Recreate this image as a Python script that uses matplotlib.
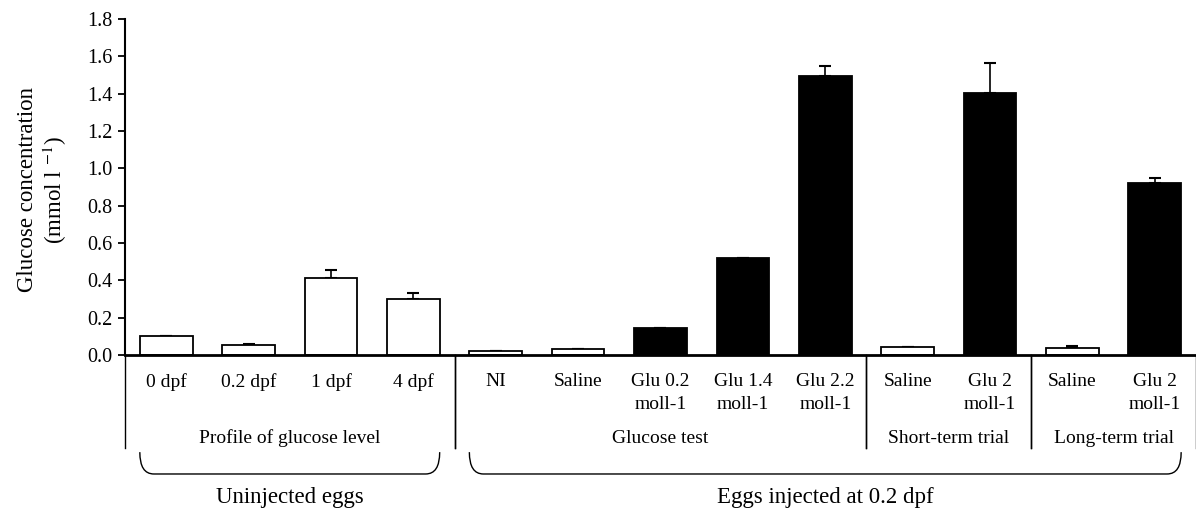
import numpy as np
import matplotlib.pyplot as plt
from matplotlib.path import Path
from matplotlib.patches import PathPatch
import matplotlib.transforms as mtransforms

plt.rcParams['font.family'] = ['Liberation Serif', 'DejaVu Serif']
plt.rcParams['mathtext.fontset'] = 'stix'

# data
labels = ['0 dpf', '0.2 dpf', '1 dpf', '4 dpf', 'NI', 'Saline', 'Glu 0.2\nmoll-1',
          'Glu 1.4\nmoll-1', 'Glu 2.2\nmoll-1', 'Saline', 'Glu 2\nmoll-1', 'Saline', 'Glu 2\nmoll-1']
values = [0.10, 0.055, 0.415, 0.30, 0.02, 0.03, 0.145, 0.52, 1.495, 0.045, 1.405, 0.04, 0.92]
errors = [0.003, 0.006, 0.04, 0.03, 0.0, 0.0, 0.0, 0.0, 0.055, 0.0, 0.16, 0.008, 0.03]
glucose = [False, False, False, False, False, False, True, True, True, False, True, False, True]

groups = ['Profile of glucose level', 'Glucose test', 'Short-term trial', 'Long-term trial']
group_bounds = [(-0.5, 3.5), (3.5, 8.5), (8.5, 10.5), (10.5, 12.5)]
super_groups = ['Uninjected eggs', 'Eggs injected at 0.2 dpf']
super_bounds = [(0, 3), (4, 12)]

fig = plt.figure(figsize=(11.96, 5.09), dpi=100)
ax = fig.add_axes([0.1045, 0.3025, 0.8955, 0.6602])

x = np.arange(len(values))
w = 0.64
cols = ['black' if g else 'white' for g in glucose]
ax.bar(x, values, width=w, color=cols, edgecolor='black', linewidth=1.3, zorder=2)
ax.errorbar(x, values, yerr=[np.zeros(len(errors)), errors], fmt='none',
            ecolor='black', elinewidth=1.2, capsize=4, capthick=1.5, zorder=1)

ax.set_ylim(0, 1.8)
ax.set_xlim(-0.5, 12.5)
ax.set_yticks(np.arange(0, 1.81, 0.2))
ax.set_yticklabels(['%.1f' % v for v in np.arange(0, 1.81, 0.2)])
ax.set_xticks(x)
ax.set_xticklabels(labels, va='top', linespacing=1.45)
ax.tick_params(axis='x', length=0, pad=13, labelsize=14)
ax.tick_params(axis='y', direction='out', length=5, width=1.3, labelsize=14.5, pad=4)
ax.spines['top'].set_visible(False)
ax.spines['right'].set_visible(False)
ax.spines['left'].set_linewidth(1.5)
ax.spines['bottom'].set_linewidth(2)

fig.text(43 / 1196, 1 - 190 / 509, 'Glucose concentration\n(mmol l $^{-1}$)', rotation=90,
         ha='center', va='center', fontsize=16.5, multialignment='center', linespacing=1.15)

trans = mtransforms.blended_transform_factory(ax.transData, ax.transAxes)

# group separators below the axis
for a, b in group_bounds:
    for xx in (a, b):
        ax.plot([xx, xx], [0, -0.277], transform=trans, color='black', lw=1.0, clip_on=False)
for name, (a, b) in zip(groups, group_bounds):
    ax.text((a + b) / 2, -0.247, name, transform=trans, ha='center', va='center', fontsize=14)

# brackets
y0, y1 = -0.289, -0.354
r = 0.17
for name, (i, j) in zip(super_groups, super_bounds):
    xa, xb = i - w / 2, j + w / 2
    verts = [(xa, y0), (xa, y1), (xa + r, y1), (xb - r, y1), (xb, y1), (xb, y0)]
    codes = [Path.MOVETO, Path.CURVE3, Path.CURVE3, Path.LINETO, Path.CURVE3, Path.CURVE3]
    ax.add_patch(PathPatch(Path(verts, codes), transform=trans, fill=False,
                           edgecolor='black', lw=1.0, clip_on=False))
    ax.text((xa + xb) / 2, -0.425, name, transform=trans, ha='center', va='center', fontsize=16.5)

fig.savefig('out.png', dpi=100)
